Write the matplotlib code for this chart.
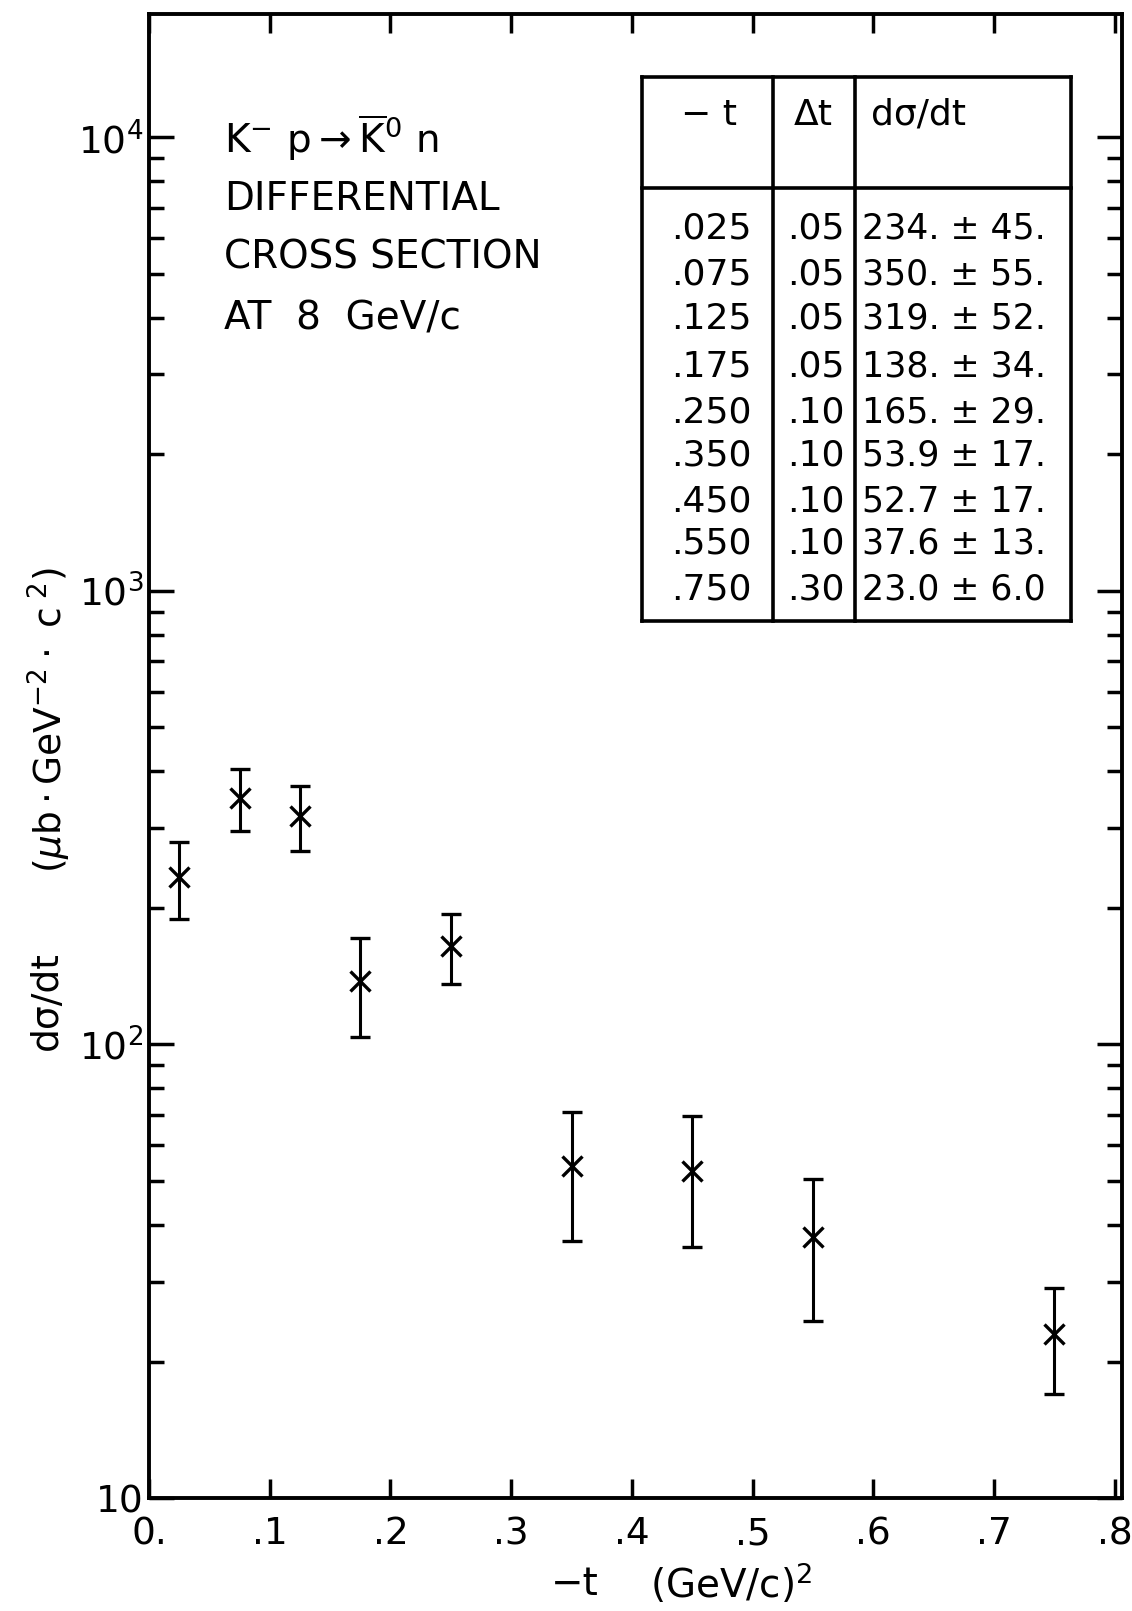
import matplotlib
matplotlib.use("Agg")
import matplotlib.pyplot as plt
from matplotlib.ticker import LogLocator, NullFormatter
from matplotlib.lines import Line2D

# ---- data ----
t_vals = [0.025, 0.075, 0.125, 0.175, 0.250, 0.350, 0.450, 0.550, 0.750]
dt_vals = [0.05, 0.05, 0.05, 0.05, 0.10, 0.10, 0.10, 0.10, 0.30]
dsdt = [234.0, 350.0, 319.0, 138.0, 165.0, 53.9, 52.7, 37.6, 23.0]
err = [45.0, 55.0, 52.0, 34.0, 29.0, 17.0, 17.0, 13.0, 6.0]

x_ticks = [0.0, 0.1, 0.2, 0.3, 0.4, 0.5, 0.6, 0.7, 0.8]
x_ticklabels = ["0.", ".1", ".2", ".3", ".4", ".5", ".6", ".7", ".8"]
y_ticks = [10, 100, 1000, 10000]
y_ticklabels = ["10", r"$10^2$", r"$10^3$", r"$10^4$"]

plt.rcParams['font.family'] = ['DejaVu Sans']
plt.rcParams['mathtext.fontset'] = 'dejavusans'

fig = plt.figure(figsize=(11.32, 16.11), dpi=100)
ax = fig.add_axes([0.1316, 0.0701, 0.8596, 0.9212])

ax.errorbar(t_vals, dsdt, yerr=err, fmt='x', color='black', ms=15, mew=2.4,
            elinewidth=2.2, capsize=7, capthick=2.2)

ax.set_yscale('log')
ax.set_xlim(0, 0.806)
ax.set_ylim(10, 18700)

ax.set_xticks(x_ticks)
ax.set_xticklabels(x_ticklabels)
ax.set_yticks(y_ticks)
ax.set_yticklabels(y_ticklabels)
ax.yaxis.set_minor_locator(LogLocator(base=10, subs=range(2, 10)))
ax.yaxis.set_minor_formatter(NullFormatter())

for s in ax.spines.values():
    s.set_linewidth(2.8)

ax.tick_params(axis='x', which='major', direction='in', top=True, length=14, width=2.5,
               labelsize=27, pad=13)
ax.tick_params(axis='y', which='major', direction='in', right=True, length=18, width=2.5,
               labelsize=27, pad=4)
ax.tick_params(axis='y', which='minor', direction='in', right=True, length=11, width=2.5)

# annotation text block
ax.text(0.0776, 0.9170, r"$\mathrm{K^{-}\ p \rightarrow \overline{K}^{0}\ n}$",
        transform=ax.transAxes, fontsize=28, va='center', ha='left')
ax.text(0.0776, 0.8753, "DIFFERENTIAL", transform=ax.transAxes, fontsize=28,
        va='center', ha='left')
ax.text(0.0776, 0.8362, "CROSS SECTION", transform=ax.transAxes, fontsize=28,
        va='center', ha='left')
ax.text(0.0776, 0.7945, "AT  8  GeV/c", transform=ax.transAxes, fontsize=28,
        va='center', ha='left')

# table
tl, tr, tt, tb = 0.5067, 0.9476, 0.9576, 0.5910
hdr = 0.8827
c1, c2 = 0.6413, 0.7256
lw = 2.6
for xs, ys in [([tl, tr], [tt, tt]), ([tl, tr], [tb, tb]), ([tl, tl], [tb, tt]),
               ([tr, tr], [tb, tt]), ([tl, tr], [hdr, hdr]), ([c1, c1], [tb, tt]),
               ([c2, c2], [tb, tt])]:
    ax.add_line(Line2D(xs, ys, transform=ax.transAxes, color='black', lw=lw,
                       solid_capstyle='projecting'))

ax.text(0.576, 0.932, "− t", transform=ax.transAxes, fontsize=26, ha='center', va='center')
ax.text(0.683, 0.932, "Δt", transform=ax.transAxes, fontsize=26, ha='center', va='center')
ax.text(0.742, 0.932, "dσ/dt", transform=ax.transAxes, fontsize=26, ha='left', va='center')

row_y = [0.8558, 0.8248, 0.7945, 0.7628, 0.7318, 0.7022, 0.6718, 0.6429, 0.6125]


def fmt_val(v):
    return f"{v:.0f}." if v >= 100 else f"{v:.1f}"


def fmt_err(e):
    return f"{e:.0f}." if e >= 10 else f"{e:.1f}"


for i, y in enumerate(row_y):
    ax.text(0.5776, y, f"{t_vals[i]:.3f}".lstrip("0"), transform=ax.transAxes,
            fontsize=26, ha='center', va='center')
    ax.text(0.6855, y, f"{dt_vals[i]:.2f}".lstrip("0"), transform=ax.transAxes,
            fontsize=26, ha='center', va='center')
    ax.text(0.7330, y, f"{fmt_val(dsdt[i])} ± {fmt_err(err[i])}", transform=ax.transAxes,
            fontsize=25, ha='left', va='center')

# axis labels
fig.text(0.041, 0.379, "dσ/dt", rotation=90, fontsize=27, ha='center', va='center')
fig.text(0.044, 0.553, r"$(\mu\mathrm{b}\cdot\mathrm{GeV}^{-2}\cdot\ \mathrm{c}^{\ 2})$",
         rotation=90, fontsize=27, ha='center', va='center')
fig.text(0.508, 0.017, "−t", fontsize=28, ha='center', va='center')
fig.text(0.574, 0.017, r"$(\mathrm{GeV/c})^{2}$", fontsize=28, ha='left', va='center')

fig.savefig("out.png", dpi=100, facecolor='white')
